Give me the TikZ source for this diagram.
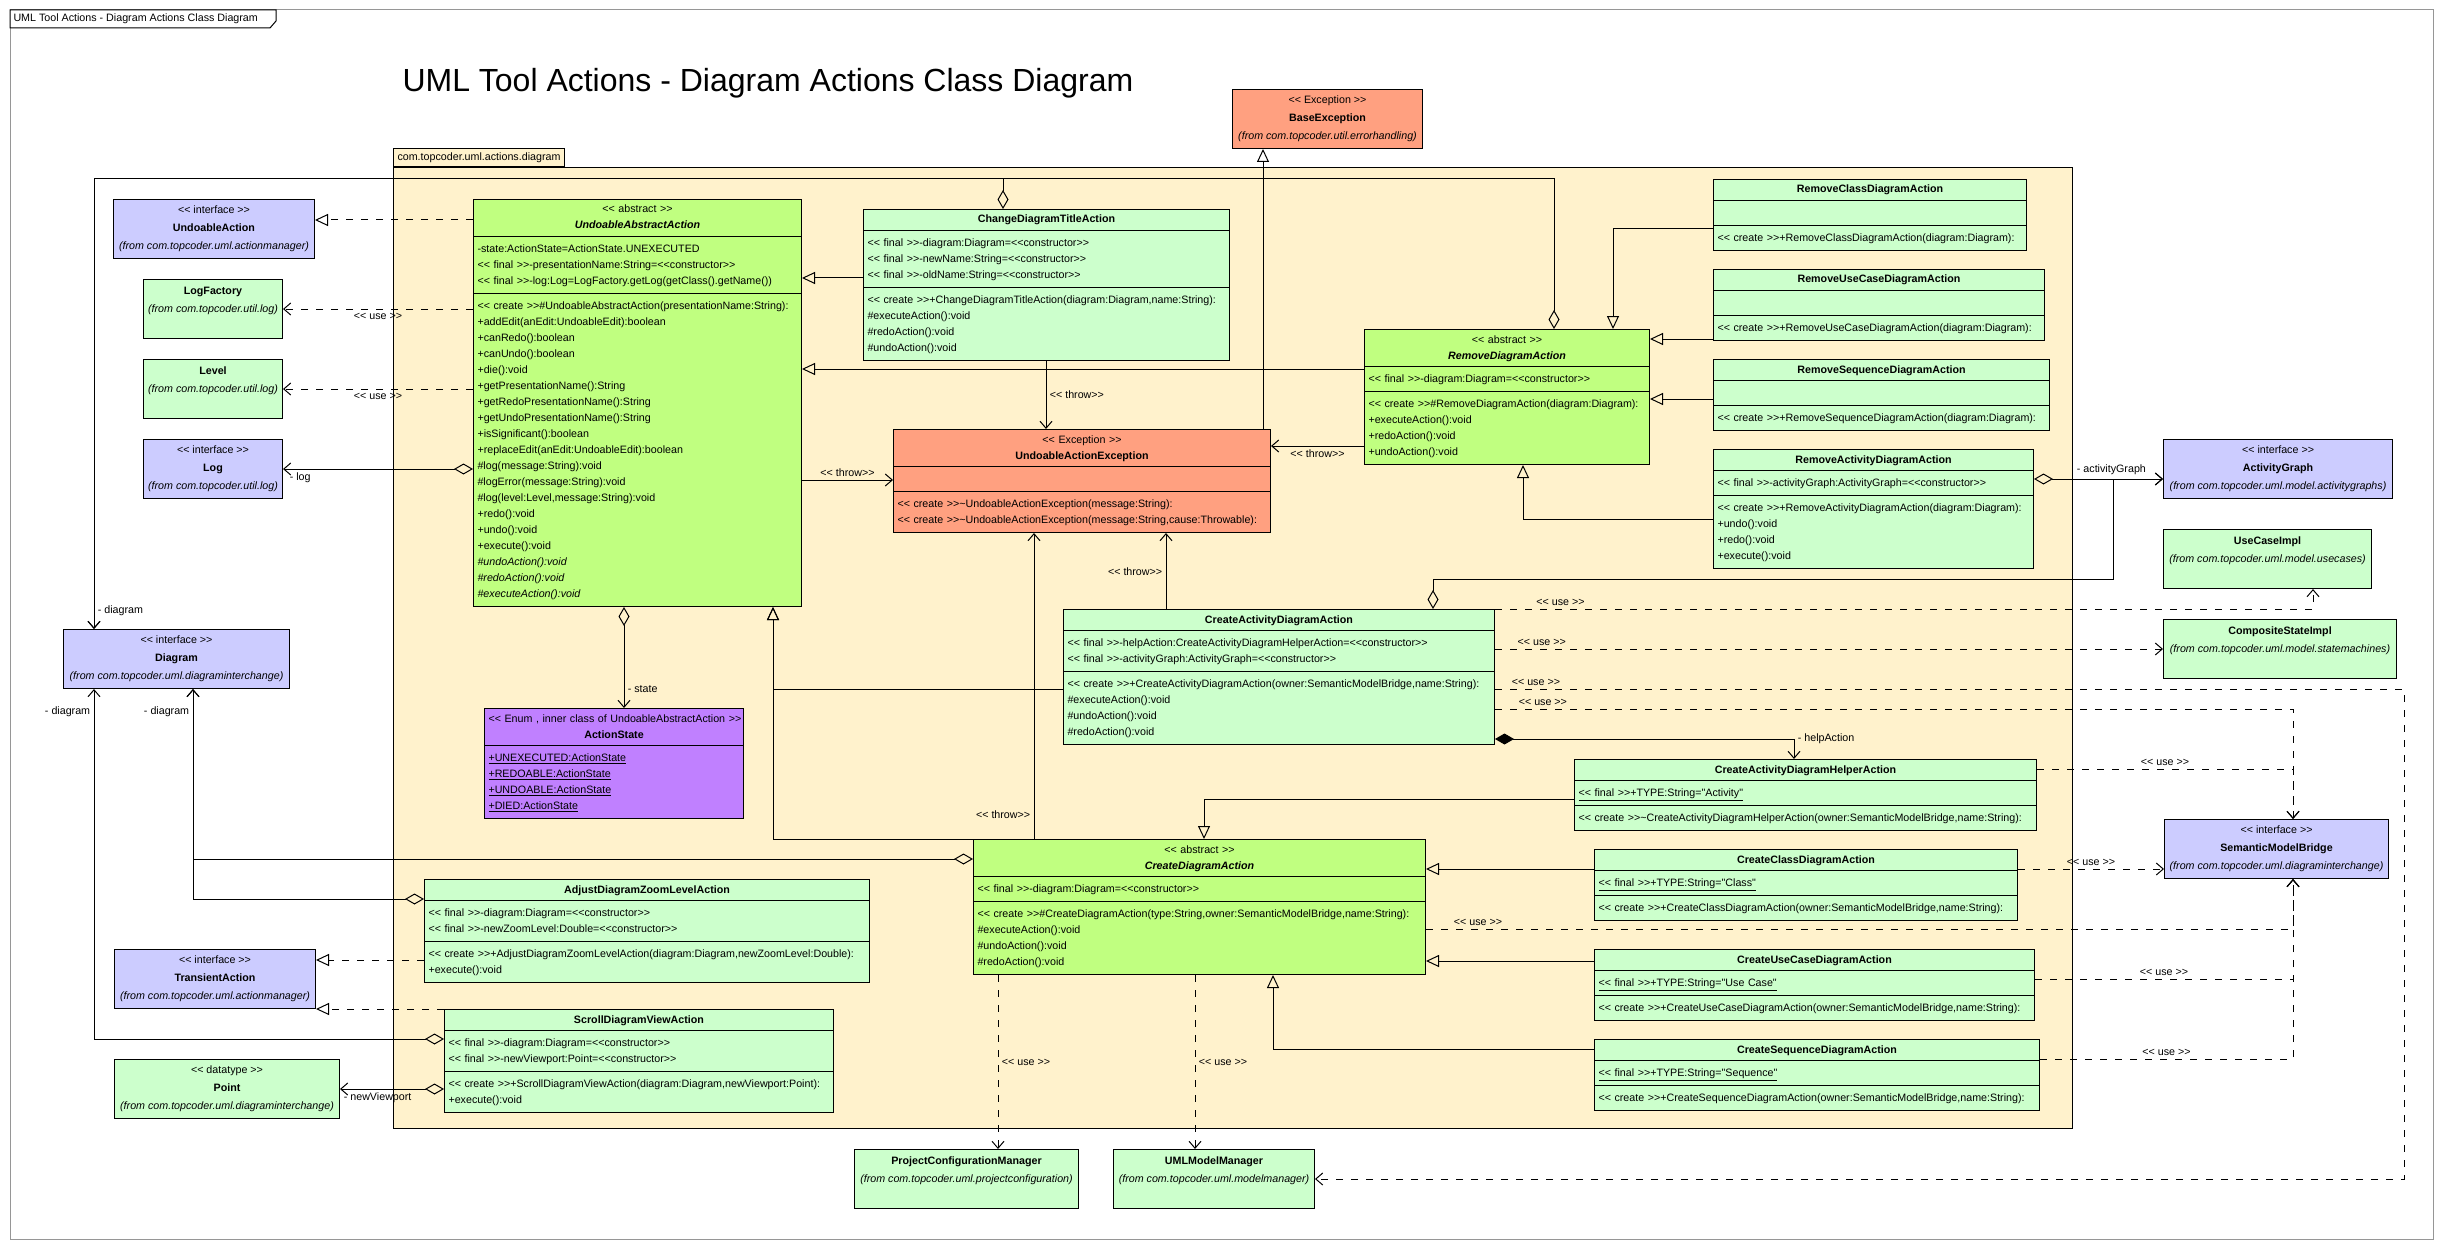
\documentclass[tikz,border=0pt]{standalone}
\usepackage{fontspec}
\setmainfont{Liberation Sans}[Ligatures=TeXOff]
\usetikzlibrary{%
	calc,%
	arrows.meta,%
	shapes.multipart,%
}
\definecolor{cifc}{RGB}{204, 204, 255}
\definecolor{cclass}{RGB}{204, 255, 204}
\definecolor{cabstract}{RGB}{192, 255, 128}
\definecolor{cexc}{RGB}{255, 160, 128}
\definecolor{cenum}{RGB}{192, 128, 255}
\definecolor{cpkg}{RGB}{255, 242, 204}
\definecolor{cframe}{RGB}{150, 150, 150}
\newcommand{\umlfont}{\fontsize{10.7}{16}\selectfont}
\newcommand{\boxfont}{\fontsize{10.7}{18}\selectfont}
\newcommand{\hdstrut}{\rule[-3pt]{0pt}{12pt}}

\begin{document}
\begin{tikzpicture}[x=1pt, y=-1pt, line width=1pt, font=\umlfont,%
		cls/.style={draw, rectangle split, rectangle split parts=3, anchor=north west, align=left, inner xsep=4pt, inner ysep=4pt, fill=cclass},%
		ext/.style={draw, anchor=north west, align=center, inner sep=0pt, minimum height=59pt, font=\boxfont},%
		gen/.style={-{Triangle[open, length=13pt, width=12pt]}},%
		realize/.style={gen, dash pattern=on 7pt off 8pt},%
		usedep/.style={-{Straight Barb[length=7pt, width=12pt]}, dash pattern=on 7pt off 8pt},%
		throw/.style={-{Straight Barb[length=7pt, width=12pt]}},%
		aggr/.style={{Diamond[open, length=19pt, width=11pt]}-{Straight Barb[length=7pt, width=12pt]}},%
		compos/.style={{Diamond[length=19pt, width=11pt]}-{Straight Barb[length=7pt, width=12pt]}}]
	\fill[white] (0,0) rectangle (2443,1249);
	\useasboundingbox (0,0) rectangle (2443,1249);

	\draw[cframe] (10,10) rectangle (2433,1239);
	\draw[fill=white] (10,10) -- (276,10) -- (276,21) -- (270,28) -- (10,28) -- cycle;
	\node[anchor=west, inner sep=2pt] (frametag) at (11,19) {UML Tool Actions - Diagram Actions Class Diagram};
	\node[anchor=base west, font=\fontsize{32}{38}\selectfont, inner sep=0pt] (heading) at (402,92) {UML Tool Actions - Diagram Actions Class Diagram};

	\node[draw, fill=cpkg, anchor=north west, minimum width=1679pt, minimum height=961pt] (pkg) at (393,167) {};
	\node[draw, fill=cpkg, anchor=south west, minimum width=171pt, minimum height=18pt, inner sep=1pt] (pkgtab) at (pkg.north west) {com.topcoder.uml.actions.diagram};

	\node[ext, fill=cifc, minimum width=201pt] (undoable) at (113,199) {<< interface >>\\\textbf{UndoableAction}\\\textit{(from com.topcoder.uml.actionmanager)}};
	\node[ext, fill=cclass, minimum width=139pt] (logfac) at (143,279) {\textbf{LogFactory}\\\textit{(from com.topcoder.util.log)}\\\mbox{}};
	\node[ext, fill=cclass, minimum width=139pt] (level) at (143,359) {\textbf{Level}\\\textit{(from com.topcoder.util.log)}\\\mbox{}};
	\node[ext, fill=cifc, minimum width=139pt] (log) at (143,439) {<< interface >>\\\textbf{Log}\\\textit{(from com.topcoder.util.log)}};
	\node[ext, fill=cifc, minimum width=226pt] (diagram) at (63,629) {<< interface >>\\\textbf{Diagram}\\\textit{(from com.topcoder.uml.diagraminterchange)}};
	\node[ext, fill=cexc, minimum width=190pt] (baseexc) at (1232,89) {<< Exception >>\\\textbf{BaseException}\\\textit{(from com.topcoder.util.errorhandling)}};
	\node[ext, fill=cifc, minimum width=229pt] (actgraph) at (2163,439) {<< interface >>\\\textbf{ActivityGraph}\\\textit{(from com.topcoder.uml.model.activitygraphs)}};
	\node[ext, fill=cclass, minimum width=208pt] (usecase) at (2163,529) {\textbf{UseCaseImpl}\\\textit{(from com.topcoder.uml.model.usecases)}\\\mbox{}};
	\node[ext, fill=cclass, minimum width=233pt] (compstate) at (2163,619) {\textbf{CompositeStateImpl}\\\textit{(from com.topcoder.uml.model.statemachines)}\\\mbox{}};
	\node[ext, fill=cifc, minimum width=224pt] (smb) at (2164,819) {<< interface >>\\\textbf{SemanticModelBridge}\\\textit{(from com.topcoder.uml.diagraminterchange)}};
	\node[ext, fill=cifc, minimum width=201pt] (transient) at (114,949) {<< interface >>\\\textbf{TransientAction}\\\textit{(from com.topcoder.uml.actionmanager)}};
	\node[ext, fill=cclass, minimum width=225pt] (point) at (114,1059) {<< datatype >>\\\textbf{Point}\\\textit{(from com.topcoder.uml.diagraminterchange)}};
	\node[ext, fill=cclass, minimum width=224pt] (projconf) at (854,1149) {\textbf{ProjectConfigurationManager}\\\textit{(from com.topcoder.uml.projectconfiguration)}\\\mbox{}};
	\node[ext, fill=cclass, minimum width=201pt] (modelmgr) at (1113,1149) {\textbf{UMLModelManager}\\\textit{(from com.topcoder.uml.modelmanager)}\\\mbox{}};

	\node[cls, fill=cabstract, text width=320pt] (uaa) at (473,199) {\centering\hdstrut << abstract >>\\\textbf{\textit{UndoableAbstractAction}}\hdstrut\par
		\nodepart{two}\strut -state:ActionState=ActionState.UNEXECUTED\\
		<< final >>-presentationName:String=<<constructor>>\\
		<< final >>-log:Log=LogFactory.getLog(getClass().getName())\strut
		\nodepart{three}\strut << create >>\#UndoableAbstractAction(presentationName:String):\\
		+addEdit(anEdit:UndoableEdit):boolean\\
		+canRedo():boolean\\
		+canUndo():boolean\\
		+die():void\\
		+getPresentationName():String\\
		+getRedoPresentationName():String\\
		+getUndoPresentationName():String\\
		+isSignificant():boolean\\
		+replaceEdit(anEdit:UndoableEdit):boolean\\
		\#log(message:String):void\\
		\#logError(message:String):void\\
		\#log(level:Level,message:String):void\\
		+redo():void\\
		+undo():void\\
		+execute():void\\
		\textit{\#undoAction():void}\\
		\textit{\#redoAction():void}\\
		\textit{\#executeAction():void}\strut};
	\node[cls, rectangle split parts=2, fill=cenum, text width=251pt] (state) at (484,708) {\centering\hdstrut\mbox{<< Enum , inner class of UndoableAbstractAction >>}\\\textbf{ActionState}\hdstrut\par
		\nodepart{two}\strut\underline{+UNEXECUTED:ActionState}\\
		\underline{+REDOABLE:ActionState}\\
		\underline{+UNDOABLE:ActionState}\\
		\underline{+DIED:ActionState}\strut};
	\node[cls, text width=358pt] (chtitle) at (863,209) {\centering\hdstrut\textbf{ChangeDiagramTitleAction}\hdstrut\par
		\nodepart{two}\strut << final >>-diagram:Diagram=<<constructor>>\\
		<< final >>-newName:String=<<constructor>>\\
		<< final >>-oldName:String=<<constructor>>\strut
		\nodepart{three}\strut << create >>+ChangeDiagramTitleAction(diagram:Diagram,name:String):\\
		\#executeAction():void\\
		\#redoAction():void\\
		\#undoAction():void\strut};
	\node[cls, fill=cexc, text width=369pt] (uaexc) at (893,429) {\centering\hdstrut << Exception >>\\\textbf{UndoableActionException}\hdstrut\par
		\nodepart{two}\strut
		\nodepart{three}\strut << create >>\textasciitilde UndoableActionException(message:String):\\
		<< create >>\textasciitilde UndoableActionException(message:String,cause:Throwable):\strut};
	\node[cls, fill=cabstract, text width=277pt] (remove) at (1364,329) {\centering\hdstrut << abstract >>\\\textbf{\textit{RemoveDiagramAction}}\hdstrut\par
		\nodepart{two}\strut << final >>-diagram:Diagram=<<constructor>>\strut
		\nodepart{three}\strut << create >>\#RemoveDiagramAction(diagram:Diagram):\\
		+executeAction():void\\
		+redoAction():void\\
		+undoAction():void\strut};
	\node[cls, text width=305pt] (rmclass) at (1713,179) {\centering\hdstrut\textbf{RemoveClassDiagramAction}\hdstrut\par
		\nodepart{two}\strut
		\nodepart{three}\strut << create >>+RemoveClassDiagramAction(diagram:Diagram):\strut};
	\node[cls, text width=323pt] (rmusecase) at (1713,269) {\centering\hdstrut\textbf{RemoveUseCaseDiagramAction}\hdstrut\par
		\nodepart{two}\strut
		\nodepart{three}\strut << create >>+RemoveUseCaseDiagramAction(diagram:Diagram):\strut};
	\node[cls, text width=328pt] (rmseq) at (1713,359) {\centering\hdstrut\textbf{RemoveSequenceDiagramAction}\hdstrut\par
		\nodepart{two}\strut
		\nodepart{three}\strut << create >>+RemoveSequenceDiagramAction(diagram:Diagram):\strut};
	\node[cls, text width=312pt] (rmact) at (1713,449) {\centering\hdstrut\textbf{RemoveActivityDiagramAction}\hdstrut\par
		\nodepart{two}\strut << final >>-activityGraph:ActivityGraph=<<constructor>>\strut
		\nodepart{three}\strut << create >>+RemoveActivityDiagramAction(diagram:Diagram):\\
		+undo():void\\
		+redo():void\\
		+execute():void\strut};
	\node[cls, text width=423pt] (createact) at (1063,609) {\centering\hdstrut\textbf{CreateActivityDiagramAction}\hdstrut\par
		\nodepart{two}\strut << final >>-helpAction:CreateActivityDiagramHelperAction=<<constructor>>\\
		<< final >>-activityGraph:ActivityGraph=<<constructor>>\strut
		\nodepart{three}\strut << create >>+CreateActivityDiagramAction(owner:SemanticModelBridge,name:String):\\
		\#executeAction():void\\
		\#undoAction():void\\
		\#redoAction():void\strut\\[7pt]};
	\node[cls, text width=454pt] (helper) at (1574,759) {\centering\hdstrut\textbf{CreateActivityDiagramHelperAction}\hdstrut\par
		\nodepart{two}\strut\underline{<< final >>+TYPE:String="Activity"}\strut
		\nodepart{three}\strut << create >>\textasciitilde CreateActivityDiagramHelperAction(owner:SemanticModelBridge,name:String):\strut};
	\node[cls, fill=cabstract, text width=444pt] (create) at (973,839) {\centering\hdstrut << abstract >>\\\textbf{\textit{CreateDiagramAction}}\hdstrut\par
		\nodepart{two}\strut << final >>-diagram:Diagram=<<constructor>>\strut
		\nodepart{three}\strut << create >>\#CreateDiagramAction(type:String,owner:SemanticModelBridge,name:String):\\
		\#executeAction():void\\
		\#undoAction():void\\
		\#redoAction():void\strut};
	\node[cls, text width=415pt] (crclass) at (1594,849) {\centering\hdstrut\textbf{CreateClassDiagramAction}\hdstrut\par
		\nodepart{two}\strut\underline{<< final >>+TYPE:String="Class"}\strut
		\nodepart{three}\strut << create >>+CreateClassDiagramAction(owner:SemanticModelBridge,name:String):\strut};
	\node[cls, text width=432pt] (crusecase) at (1594,949) {\centering\hdstrut\textbf{CreateUseCaseDiagramAction}\hdstrut\par
		\nodepart{two}\strut\underline{<< final >>+TYPE:String="Use Case"}\strut
		\nodepart{three}\strut << create >>+CreateUseCaseDiagramAction(owner:SemanticModelBridge,name:String):\strut};
	\node[cls, text width=437pt] (crseq) at (1594,1039) {\centering\hdstrut\textbf{CreateSequenceDiagramAction}\hdstrut\par
		\nodepart{two}\strut\underline{<< final >>+TYPE:String="Sequence"}\strut
		\nodepart{three}\strut << create >>+CreateSequenceDiagramAction(owner:SemanticModelBridge,name:String):\strut};
	\node[cls, text width=437pt] (zoom) at (424,879) {\centering\hdstrut\textbf{AdjustDiagramZoomLevelAction}\hdstrut\par
		\nodepart{two}\strut << final >>-diagram:Diagram=<<constructor>>\\
		<< final >>-newZoomLevel:Double=<<constructor>>\strut
		\nodepart{three}\strut << create >>+AdjustDiagramZoomLevelAction(diagram:Diagram,newZoomLevel:Double):\\
		+execute():void\strut};
	\node[cls, text width=381pt] (scroll) at (444,1009) {\centering\hdstrut\textbf{ScrollDiagramViewAction}\hdstrut\par
		\nodepart{two}\strut << final >>-diagram:Diagram=<<constructor>>\\
		<< final >>-newViewport:Point=<<constructor>>\strut
		\nodepart{three}\strut << create >>+ScrollDiagramViewAction(diagram:Diagram,newViewport:Point):\\
		+execute():void\strut};

	\draw[realize] ($(uaa.north west)+(0,21)$) to ($(undoable.north east)+(0,21)$);
	\draw[usedep] ($(uaa.north west)+(0,110)$) to node[below] {<< use >>} ($(logfac.north east)+(0,30)$);
	\draw[usedep] ($(uaa.north west)+(0,190)$) to node[below] {<< use >>} ($(level.north east)+(0,30)$);
	\draw[aggr] ($(uaa.north west)+(0,270)$) to node[pos=1, below right, xshift=3pt] {- log} ($(log.north east)+(0,30)$);
	\draw[aggr] ($(uaa.south west)+(151,0)$) to node[pos=0.81, right] {- state} ($(state.north west)+(140,0)$);
	\draw[gen] (create.north west) -| ($(uaa.south west)+(300,0)$);
	\draw[gen] ($(createact.north west)+(0,80)$) -| ($(uaa.south west)+(300,0)$);
	\draw[gen] ($(chtitle.north west)+(0,69)$) to ($(uaa.north east)+(0,79)$);
	\draw[gen] ($(remove.north west)+(0,40)$) to ($(uaa.north east)+(0,170)$);
	\draw[throw] ($(remove.north west)+(0,117)$) to node[below] {<< throw>>} ($(uaexc.north east)+(0,17)$);
	\draw[throw] ($(chtitle.south west)+(183,0)$) to node[right] {<< throw>>} ($(uaexc.north west)+(153,0)$);
	\draw[throw] ($(uaa.north east)+(0,281)$) to node[above] {<< throw>>} ($(uaexc.north west)+(0,51)$);
	\draw[gen] ($(uaexc.north west)+(370,0)$) to ($(baseexc.south west)+(31,0)$);
	\draw[aggr] ($(remove.north west)+(190,0)$) -- ++(0,-150) -| node[pos=0.98, right] {- diagram} ($(diagram.north west)+(31,0)$);
	\draw[aggr] ($(chtitle.north west)+(140,0)$) -- ++(0,-30) -| ($(diagram.north west)+(31,0)$);

	\draw[gen] ($(rmclass.north west)+(0,50)$) -| ($(remove.north west)+(249,0)$);
	\draw[gen] ($(rmusecase.north west)+(0,70)$) to ($(remove.north east)+(0,10)$);
	\draw[gen] ($(rmseq.north west)+(0,40)$) to ($(remove.north east)+(0,70)$);
	\draw[gen] ($(rmact.north west)+(0,70)$) -| ($(remove.south west)+(159,0)$);
	\draw[aggr] ($(rmact.north east)+(0,30)$) to node[pos=0.6, above] {- activityGraph} ($(actgraph.north west)+(0,40)$);
	\draw[aggr] ($(createact.north west)+(370,0)$) -- ++(0,-30) -| ($(actgraph.north west)+(-50,40)$) -- ($(actgraph.north west)+(0,40)$);
	\draw[compos] ($(createact.north east)+(0,130)$) -| node[pos=0.5, anchor=west] {- helpAction} ($(helper.north west)+(220,0)$);

	\draw[gen] ($(helper.north west)+(0,40)$) -| ($(create.north west)+(231,0)$);
	\draw[gen] ($(crclass.north west)+(0,20)$) to ($(create.north east)+(0,30)$);
	\draw[gen] ($(crusecase.north west)+(0,12)$) to ($(create.north east)+(0,122)$);
	\draw[gen] ($(crseq.north west)+(0,10)$) -| ($(create.south west)+(300,0)$);
	\draw[throw] ($(create.north west)+(61,0)$) to node[pos=0.08, left] {<< throw>>} ($(uaexc.south west)+(141,0)$);
	\draw[throw] ($(createact.north west)+(103,0)$) to node[pos=0.49, left] {<< throw>>} ($(uaexc.south west)+(273,0)$);

	\draw[aggr] ($(create.north west)+(0,20)$) -| ($(diagram.south west)+(130,0)$);
	\draw[aggr] ($(zoom.north west)+(0,20)$) -| node[pos=0.945, left] {- diagram} ($(diagram.south west)+(130,0)$);
	\draw[aggr] ($(scroll.north west)+(0,30)$) -| node[pos=0.967, left] {- diagram} ($(diagram.south west)+(31,0)$);
	\draw[realize] ($(zoom.north west)+(0,81)$) to ($(transient.north east)+(0,11)$);
	\draw[realize] (scroll.north west) to ($(transient.north east)+(0,60)$);
	\draw[aggr] ($(scroll.north west)+(0,80)$) to node[pos=1, below right] {- newViewport} ($(point.north east)+(0,30)$);

	\draw[usedep] ($(create.south west)+(25,0)$) to node[right] {<< use >>} ($(projconf.north west)+(144,0)$);
	\draw[usedep] ($(create.south west)+(222,0)$) to node[right] {<< use >>} ($(modelmgr.north west)+(82,0)$);
	\draw[usedep] (createact.north east) -| node[pos=0.04, above] {<< use >>} ($(usecase.south west)+(150,0)$);
	\draw[usedep] ($(createact.north east)+(0,40)$) to node[pos=0.07, above] {<< use >>} ($(compstate.north west)+(0,30)$);
	\draw[usedep] ($(createact.north east)+(0,80)$) -- node[pos=0.045, above] {<< use >>} ++(909,0) |- ($(modelmgr.north east)+(0,30)$);
	\draw[usedep] ($(createact.north east)+(0,100)$) -| node[pos=0.03, above] {<< use >>} ($(smb.north west)+(129,0)$);
	\draw[usedep] ($(helper.north east)+(0,10)$) -| node[pos=0.25, above] {<< use >>} ($(smb.north west)+(129,0)$);
	\draw[usedep] ($(crclass.north east)+(0,20)$) to node[above] {<< use >>} ($(smb.north west)+(0,50)$);
	\draw[usedep] ($(create.north east)+(0,90)$) -| node[pos=0.03, above] {<< use >>} ($(smb.south west)+(129,0)$);
	\draw[usedep] ($(crusecase.north east)+(0,30)$) -| node[pos=0.25, above] {<< use >>} ($(smb.south west)+(129,0)$);
	\draw[usedep] ($(crseq.north east)+(0,20)$) -| node[pos=0.25, above] {<< use >>} ($(smb.south west)+(129,0)$);
\end{tikzpicture}
\end{document}
